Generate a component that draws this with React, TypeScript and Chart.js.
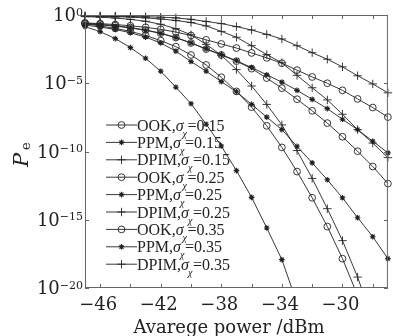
import React, { useEffect, useRef } from 'react';
import { Chart, registerables } from 'chart.js';

Chart.register(...registerables);

// x values (average power, dBm)
const powerDbm = [-47, -46, -45, -44, -43, -42, -41, -40, -39, -38, -37, -36, -35, -34, -33, -32, -31, -30, -29, -28, -27];

// log10(Pe)
const ook015 = [-0.64, -0.8, -0.98, -1.2, -1.5, -1.88, -2.32, -2.93, -3.66, -4.56, -5.6, -6.75, -8.12, -9.7, -11.47, -13.39, -15.5, -17.85, -20.55];
const ppm015 = [-0.85, -1.22, -1.73, -2.39, -3.17, -4.12, -5.29, -6.5, -8.0, -9.6, -11.4, -13.36, -15.6, -17.92, -21.1];
const dpim015 = [-0.12, -0.16, -0.22, -0.32, -0.46, -0.68, -1.0, -1.45, -2.15, -2.95, -4.0, -5.2, -6.55, -8.05, -9.93, -11.97, -14.19, -16.53, -19.2, -22.4];
const ook025 = [-0.6, -0.68, -0.78, -0.92, -1.1, -1.33, -1.65, -2.05, -2.5, -2.93, -3.38, -3.93, -4.62, -5.36, -6.17, -7.02, -7.92, -8.92, -9.98, -11.1, -12.35];
const ppm025 = [-0.74, -0.88, -1.06, -1.3, -1.62, -2.05, -2.65, -3.41, -4.12, -4.88, -5.62, -6.55, -7.48, -8.4, -9.62, -10.83, -12.07, -13.39, -14.85, -16.24, -17.85];
const dpim025 = [-0.08, -0.1, -0.12, -0.16, -0.21, -0.29, -0.4, -0.55, -0.8, -1.2, -1.63, -2.25, -2.9, -3.5, -4.42, -5.33, -6.22, -7.27, -8.4, -9.38, -10.45];
const ook035 = [-0.58, -0.63, -0.7, -0.79, -0.9, -1.05, -1.25, -1.5, -1.82, -2.12, -2.42, -2.78, -3.14, -3.53, -4.04, -4.54, -5.0, -5.52, -6.15, -6.78, -7.48];
const ppm035 = [-0.64, -0.72, -0.82, -0.95, -1.12, -1.35, -1.66, -2.05, -2.48, -2.9, -3.35, -3.85, -4.38, -4.92, -5.52, -6.18, -6.86, -7.64, -8.4, -9.25, -10.1];
const dpim035 = [-0.06, -0.07, -0.09, -0.11, -0.13, -0.16, -0.21, -0.32, -0.47, -0.63, -0.85, -1.1, -1.42, -1.76, -2.25, -2.76, -3.24, -3.8, -4.45, -5.05, -5.7];

const seriesValues = [ook015, ppm015, dpim015, ook025, ppm025, dpim025, ook035, ppm035, dpim035];
const schemeNames = ['OOK', 'PPM', 'DPIM', 'OOK', 'PPM', 'DPIM', 'OOK', 'PPM', 'DPIM'];
const sigmaValues = ['0.15', '0.15', '0.15', '0.25', '0.25', '0.25', '0.35', '0.35', '0.35'];
const markerKinds = ['circle', 'star', 'cross', 'circle', 'star', 'cross', 'circle', 'star', 'cross'];

const yTickExps = [0, -5, -10, -15, -20];
const xTickLabels = [-46, -42, -38, -34, -30];
const xTickMarks = [-46, -44, -42, -40, -38, -36, -34, -32, -30, -28];
const xTitle = 'Avarege power /dBm';

const INK = '#222';
const FRAME = '#666';

function markerProps(kind: string) {
  if (kind === 'circle') return { pointStyle: 'circle', pointRadius: 3.4, pointBorderWidth: 0.9 };
  if (kind === 'star') return { pointStyle: 'star', pointRadius: 2.8, pointBorderWidth: 1.1 };
  return { pointStyle: 'cross', pointRadius: 4.2, pointBorderWidth: 0.9 };
}

function drawMarker(ctx: CanvasRenderingContext2D, kind: string, x: number, y: number) {
  ctx.beginPath();
  if (kind === 'circle') {
    ctx.lineWidth = 0.9;
    ctx.arc(x, y, 3.4, 0, Math.PI * 2);
  } else if (kind === 'star') {
    ctx.lineWidth = 1.1;
    const r = 2.8;
    ctx.moveTo(x - r, y); ctx.lineTo(x + r, y);
    ctx.moveTo(x, y - r); ctx.lineTo(x, y + r);
    const d = r * Math.SQRT1_2;
    ctx.moveTo(x - d, y - d); ctx.lineTo(x + d, y + d);
    ctx.moveTo(x - d, y + d); ctx.lineTo(x + d, y - d);
  } else {
    ctx.lineWidth = 0.9;
    const r = 4.2;
    ctx.moveTo(x - r, y); ctx.lineTo(x + r, y);
    ctx.moveTo(x, y - r); ctx.lineTo(x, y + r);
  }
  ctx.stroke();
}

const decorPlugin = {
  id: 'decor',
  afterDraw(chart: any) {
    const { ctx, chartArea: a, scales } = chart;
    const xs = scales.x;
    const ys = scales.y;
    ctx.save();
    // frame
    ctx.strokeStyle = FRAME;
    ctx.lineWidth = 1;
    ctx.strokeRect(a.left + 0.5, a.top + 0.5, a.right - a.left - 1, a.bottom - a.top - 1);
    // x tick marks (inward, top and bottom)
    ctx.beginPath();
    xTickMarks.forEach((v) => {
      const px = Math.round(xs.getPixelForValue(v)) + 0.5;
      ctx.moveTo(px, a.bottom); ctx.lineTo(px, a.bottom - 4);
      ctx.moveTo(px, a.top); ctx.lineTo(px, a.top + 4);
    });
    yTickExps.forEach((e) => {
      const py = Math.round(ys.getPixelForValue(Math.pow(10, e))) + 0.5;
      ctx.moveTo(a.left, py); ctx.lineTo(a.left + 4, py);
      ctx.moveTo(a.right, py); ctx.lineTo(a.right - 4, py);
    });
    ctx.stroke();

    ctx.fillStyle = INK;
    // x tick labels
    ctx.font = '18px "DejaVu Serif"';
    ctx.textAlign = 'center';
    ctx.textBaseline = 'middle';
    xTickLabels.forEach((v) => {
      const px = xs.getPixelForValue(v);
      ctx.fillText('\u2212' + Math.abs(v), px - 2, 305);
    });
    // y tick labels 10^e
    yTickExps.forEach((e) => {
      const py = ys.getPixelForValue(Math.pow(10, e));
      const sup = e === 0 ? '0' : '\u2212' + Math.abs(e);
      ctx.font = '11px "DejaVu Serif"';
      const sw = ctx.measureText(sup).width;
      const right = a.left - 2;
      ctx.textAlign = 'left';
      ctx.textBaseline = 'alphabetic';
      ctx.fillText(sup, right - sw, py + 0.5);
      ctx.font = '18px "DejaVu Serif"';
      ctx.textAlign = 'right';
      ctx.textBaseline = 'middle';
      ctx.fillText('10', right - sw, py + 1.5);
    });
    // x title
    ctx.font = '18px "DejaVu Serif"';
    ctx.textAlign = 'center';
    ctx.textBaseline = 'alphabetic';
    ctx.fillText(xTitle, 229, 333);
    // y title P_e rotated
    ctx.save();
    ctx.translate(28, 167);
    ctx.rotate(-Math.PI / 2);
    ctx.textAlign = 'left';
    ctx.font = 'italic 21px "DejaVu Serif"';
    ctx.fillText('P', 0, 0);
    ctx.font = '13px "DejaVu Serif"';
    ctx.fillText('e', 17, 2);
    ctx.restore();

    // legend
    const rowStart = 125;
    const rowStep = 17.4;
    ctx.strokeStyle = INK;
    for (let i = 0; i < schemeNames.length; i++) {
      const y = rowStart + i * rowStep;
      ctx.lineWidth = 0.9;
      ctx.beginPath();
      ctx.moveTo(106, y); ctx.lineTo(137, y);
      ctx.stroke();
      drawMarker(ctx, markerKinds[i], 121.5, y);
      ctx.textAlign = 'left';
      ctx.textBaseline = 'alphabetic';
      let tx = 137;
      const base = y + 5.5;
      ctx.font = '16px "Liberation Serif"';
      const pre = schemeNames[i] + ',';
      ctx.fillText(pre, tx, base);
      tx += ctx.measureText(pre).width;
      ctx.font = 'italic 16px "Liberation Serif"';
      ctx.fillText('\u03c3', tx, base);
      tx += ctx.measureText('\u03c3').width;
      ctx.font = 'italic 10px "Liberation Serif"';
      ctx.fillText('\u03c7', tx - 1, base + 6);
      tx += 4;
      ctx.font = '16px "Liberation Serif"';
      ctx.fillText('=' + sigmaValues[i], tx, base);
    }
    ctx.restore();
  },
};

export default function App() {
  const ref = useRef<HTMLCanvasElement | null>(null);
  useEffect(() => {
    document.body.style.margin = '0';
    const canvas = ref.current;
    if (!canvas) return;
    const datasets = seriesValues.map((vals, i) => ({
      label: schemeNames[i] + ' ' + sigmaValues[i],
      data: vals.map((v, j) => ({ x: powerDbm[j], y: Math.pow(10, v) })),
      borderColor: INK,
      borderWidth: 0.9,
      backgroundColor: 'rgba(0,0,0,0)',
      pointBackgroundColor: 'rgba(0,0,0,0)',
      pointBorderColor: INK,
      tension: 0,
      clip: { left: 8, right: 8, top: 8, bottom: 0 },
      ...markerProps(markerKinds[i]),
    }));
    const chart = new Chart(canvas, {
      type: 'line',
      data: { datasets },
      options: {
        responsive: false,
        devicePixelRatio: 1,
        animation: false,
        layout: { padding: { left: 85, right: 3, top: 15, bottom: 48 } },
        plugins: { legend: { display: false }, tooltip: { enabled: false } },
        scales: {
          x: { type: 'linear', min: -47, max: -27, display: false },
          y: { type: 'logarithmic', min: 1e-20, max: 1, display: false },
        },
      },
      plugins: [decorPlugin],
    } as any);
    return () => chart.destroy();
  }, []);
  return (
    <div style={{ width: 393, height: 336, background: '#fff' }}>
      <canvas ref={ref} width={393} height={336} style={{ display: 'block' }} />
    </div>
  );
}
